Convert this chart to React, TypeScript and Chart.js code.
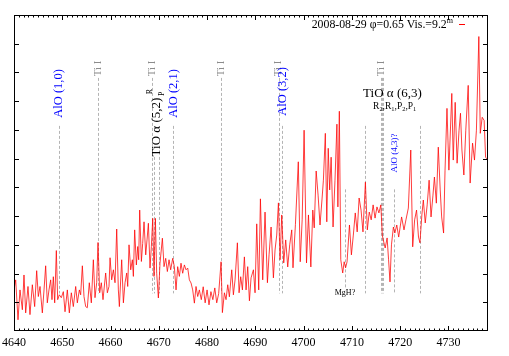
import React, { useEffect, useRef } from "react";
import { Chart, registerables } from "chart.js";

Chart.register(...registerables);

const SERIF = "'Liberation Serif', 'Times New Roman', serif";

// Spectrum: wavelength (Å) and relative flux
const wavelengths = [
  4640.0, 4640.35, 4640.83, 4641.24, 4641.73, 4642.07, 4642.42, 4642.9, 4643.31, 4643.8,
  4644.28, 4644.7, 4645.04, 4645.39, 4645.87, 4646.22, 4646.56, 4646.9, 4647.25, 4647.6,
  4647.87, 4648.15, 4648.43, 4648.77, 4649.05, 4649.39, 4649.8, 4650.22, 4650.57, 4651.05,
  4651.46, 4651.88, 4652.29, 4652.78, 4653.12, 4653.54, 4653.81, 4654.16, 4654.5, 4654.85,
  4655.19, 4655.6, 4656.02, 4656.44, 4656.78, 4657.13, 4657.4, 4657.75, 4658.09, 4658.44,
  4658.99, 4659.34, 4659.68,
  4659.9, 4660.24, 4660.59, 4660.93, 4661.28, 4661.62, 4661.83, 4662.31, 4662.66, 4663.0,
  4663.35, 4663.56, 4663.83, 4664.18, 4664.52, 4664.73, 4665.0, 4665.35, 4665.63, 4665.83,
  4666.04, 4666.39, 4666.66, 4666.94, 4667.29, 4667.56, 4667.84, 4668.18, 4668.46, 4668.74,
  4669.01, 4669.29, 4669.56, 4669.91, 4670.25, 4670.74, 4671.08, 4671.43, 4671.77, 4672.12,
  4672.46, 4672.88, 4673.22, 4673.57, 4673.91, 4674.26, 4674.6, 4674.95, 4675.3, 4675.64,
  4675.99, 4676.33, 4676.68, 4677.02, 4677.37, 4677.71, 4678.06, 4678.4,
  4678.8, 4679.2, 4679.6, 4680.0, 4680.4, 4680.8, 4681.2, 4681.6, 4682.0, 4682.4,
  4682.9, 4683.17, 4683.59, 4683.93, 4684.28, 4684.62, 4685.11, 4685.45, 4685.8, 4686.28,
  4686.63, 4686.97, 4687.32, 4687.73, 4688.08, 4688.42, 4688.77, 4689.11, 4689.6, 4689.94,
  4690.29, 4690.7, 4691.05, 4691.53, 4692.01, 4692.5, 4692.84, 4693.26, 4693.74, 4694.08,
  4694.43, 4694.78, 4695.12, 4695.47, 4695.88, 4696.29, 4696.71, 4697.12, 4697.54,
  4697.8, 4698.3, 4698.9, 4699.3, 4699.7, 4700.1, 4700.6, 4701.0, 4701.5, 4701.9,
  4702.2, 4702.6, 4703.0, 4703.4, 4703.8, 4704.1, 4704.5, 4704.8, 4705.1, 4705.4,
  4705.7, 4706.1, 4706.5, 4706.9, 4707.1, 4707.4, 4707.7, 4708.1, 4708.4, 4708.7,
  4709.0, 4709.5, 4709.9, 4710.3, 4710.7, 4711.1, 4711.5, 4711.9, 4712.3, 4712.8,
  4713.2, 4713.6, 4714.0, 4714.4, 4714.8, 4715.2, 4715.6, 4716.0, 4716.3, 4716.5,
  4716.9, 4717.3, 4717.6, 4717.9, 4718.2, 4718.6, 4718.9, 4719.3, 4719.7, 4720.3,
  4720.8, 4721.2, 4721.7, 4722.2, 4722.6, 4723.0, 4723.4, 4723.8, 4724.1, 4724.5,
  4724.8, 4725.2, 4725.6, 4726.0, 4726.4, 4726.8, 4727.1, 4727.5, 4727.9, 4728.3,
  4728.6, 4729.0, 4729.3, 4729.7, 4730.1, 4730.7, 4731.0, 4731.4, 4731.8, 4732.2,
  4732.5, 4732.8, 4733.2, 4733.6, 4734.1, 4734.5, 4735.0, 4735.4, 4735.8, 4736.3,
  4736.6, 4737.0, 4737.4, 4737.7, 4738.2,
];

const flux = [
  1.43, 1.78, 0.39, 1.43, 0.74, 1.95, 0.63, 1.55, 0.57, 1.61,
  0.85, 2.1, 1.2, 1.55, 0.63, 1.43, 2.27, 0.98, 1.43, 1.78,
  1.09, 1.89, 0.98, 2.8, 1.09, 1.26, 1.16, 1.37, 0.67, 1.43,
  0.63, 1.33, 0.85, 1.55, 0.98, 1.43, 1.26, 2.27, 1.2, 0.85,
  0.81, 1.68, 0.98, 2.48, 1.16, 1.68, 3.08, 1.33, 1.68, 1.09,
  2.02, 1.33, 1.55,
  2.55, 1.78, 2.13, 1.68, 3.55, 1.43, 0.85, 2.48, 0.98, 1.68,
  2.02, 1.55, 3.0, 2.13, 2.48, 1.9, 3.52, 2.3, 2.94, 2.48,
  4.21, 2.42, 3.05, 3.8, 2.65, 3.17, 3.75, 2.19, 2.94, 3.92,
  1.9, 3.92, 2.01, 1.15, 2.36, 3.23, 2.24, 2.53, 2.07, 2.48,
  2.13, 2.53, 2.24, 1.43, 2.24, 1.9, 2.36, 2.01, 2.3, 2.13,
  2.19, 1.78, 1.67, 1.43, 0.97, 1.55, 1.2, 1.43,
  1.09, 1.54, 0.98, 1.43, 0.91, 1.37, 1.09, 1.5, 0.98, 1.3,
  2.41, 0.64, 1.33, 1.09, 1.61, 1.19, 2.13, 1.26, 1.78, 3.07,
  1.33, 1.89, 1.43, 2.58, 1.43, 2.24, 1.05, 1.85, 2.13, 1.33,
  3.73, 1.43, 4.6, 1.78, 4.14, 1.68, 2.65, 3.62, 1.85, 2.82,
  3.34, 4.46, 2.48, 4.04, 2.37, 3.17, 2.23, 3.0, 3.52,
  2.2, 3.7, 5.89, 2.41, 3.87, 6.99, 2.37, 4.04, 2.23, 4.21,
  3.59, 5.57, 4.73, 3.69, 4.56, 5.25, 6.88, 3.8, 6.36, 4.91,
  6.05, 3.62, 5.25, 7.2, 4.32, 7.65, 2.48, 2.02, 2.41, 2.2,
  2.41, 3.69, 2.65, 3.34, 4.11, 3.45, 4.63, 4.21, 3.45, 5.18,
  3.52, 4.14, 3.87, 4.39, 3.93, 4.32, 4.11, 4.39, 3.34, 3.17,
  2.89, 3.24, 2.48, 1.71, 3.0, 3.62, 3.41, 3.69, 3.27, 3.97,
  3.52, 3.87, 4.28, 6.3, 2.93, 3.87, 4.21, 3.27, 3.07, 4.04,
  4.56, 3.76, 4.39, 5.25, 3.97, 4.73, 5.36, 4.45, 6.4, 4.91,
  3.97, 3.41, 5.6, 7.75, 5.6, 8.27, 5.95, 7.96, 5.84, 6.99,
  7.58, 6.3, 5.43, 6.99, 8.55, 5.15, 6.54, 5.95, 6.99, 10.25,
  6.88, 7.44, 7.33, 6.05, 5.95,
];

const xTickValues = [4640, 4650, 4660, 4670, 4680, 4690, 4700, 4710, 4720, 4730];
const yTickValues = [1, 2, 3, 4, 5, 6, 7, 8, 9, 10];

// Line identifications (dashed markers): wavelength, top and bottom in flux units
const markerWavelengths = [
  4649.26, 4657.47, 4668.66, 4669.07, 4670.11, 4673.01, 4682.89, 4694.8, 4695.6,
  4708.59, 4712.73, 4716.05, 4716.3, 4716.55, 4718.8, 4724.19,
];
const markerTops = [7.14, 8.81, 8.81, 6.06, 6.06, 7.14, 8.81, 8.81, 7.14, 4.93, 7.14, 8.81, 8.81, 8.81, 4.93, 7.14];
const markerBottoms = [1.31, 1.31, 1.31, 1.31, 1.31, 1.31, 1.31, 1.31, 1.31, 1.45, 1.31, 1.31, 1.31, 1.31, 1.31, 1.31];

type Part = { t: string; k?: "sub" | "sup" };
type Note = { parts: Part[]; w: number; f: number; size: number; color: string; rot: boolean };

const notes: Note[] = [
  { parts: [{ t: "AlO (1,0)" }], w: 4649.26, f: 8.27, size: 12.5, color: "#0000ff", rot: true },
  { parts: [{ t: "Ti I" }], w: 4657.4, f: 9.14, size: 11, color: "#8c8c8c", rot: true },
  { parts: [{ t: "Ti I" }], w: 4668.6, f: 9.14, size: 11, color: "#8c8c8c", rot: true },
  { parts: [{ t: "TiO α (5,2)" }], w: 4669.63, f: 7.1, size: 13, color: "#000000", rot: true },
  { parts: [{ t: "R" }], w: 4668.1, f: 8.33, size: 8, color: "#000000", rot: true },
  { parts: [{ t: "P" }], w: 4670.6, f: 8.26, size: 8, color: "#000000", rot: true },
  { parts: [{ t: "AlO (2,1)" }], w: 4673.01, f: 8.27, size: 12.5, color: "#0000ff", rot: true },
  { parts: [{ t: "Ti I" }], w: 4682.85, f: 9.14, size: 11, color: "#8c8c8c", rot: true },
  { parts: [{ t: "Ti I" }], w: 4694.75, f: 9.14, size: 11, color: "#8c8c8c", rot: true },
  { parts: [{ t: "AlO (3,2)" }], w: 4695.6, f: 8.34, size: 12.5, color: "#0000ff", rot: true },
  { parts: [{ t: "Ti I" }], w: 4716.1, f: 9.14, size: 11, color: "#8c8c8c", rot: true },
  { parts: [{ t: "TiO α (6,3)" }], w: 4718.41, f: 8.28, size: 13, color: "#000000", rot: false },
  {
    parts: [
      { t: "R" }, { t: "2", k: "sub" }, { t: "," }, { t: "R" }, { t: "1", k: "sub" }, { t: "," },
      { t: "P" }, { t: "2", k: "sub" }, { t: "," }, { t: "P" }, { t: "1", k: "sub" },
    ],
    w: 4718.87, f: 7.81, size: 9.5, color: "#000000", rot: false,
  },
  { parts: [{ t: "AlO (4,3)?" }], w: 4718.8, f: 6.2, size: 9, color: "#0000ff", rot: true },
  { parts: [{ t: "MgH?" }], w: 4708.57, f: 1.31, size: 8, color: "#000000", rot: false },
];

const legendParts: Part[] = [{ t: "2008-08-29 φ=0.65 Vis.=9.2" }, { t: "m", k: "sup" }];

function drawParts(ctx: CanvasRenderingContext2D, parts: Part[], x: number, y: number, size: number, align: "center" | "right") {
  const widths = parts.map((p) => {
    ctx.font = `${p.k ? size * 0.68 : size}px ${SERIF}`;
    return ctx.measureText(p.t).width;
  });
  const total = widths.reduce((a, b) => a + b, 0);
  let cx = align === "center" ? x - total / 2 : x - total;
  ctx.textAlign = "left";
  parts.forEach((p, i) => {
    ctx.font = `${p.k ? size * 0.68 : size}px ${SERIF}`;
    const dy = p.k === "sub" ? size * 0.3 : p.k === "sup" ? -size * 0.42 : 0;
    ctx.fillText(p.t, cx, y + dy);
    cx += widths[i];
  });
}

const overlay = {
  id: "overlay",
  beforeDatasetsDraw(chart: any) {
    const { ctx } = chart;
    const xs = chart.scales.x;
    const ys = chart.scales.y;
    ctx.save();
    ctx.strokeStyle = "#b4b4b4";
    ctx.lineWidth = 1;
    ctx.setLineDash([3, 2]);
    markerWavelengths.forEach((w, i) => {
      const px = Math.round(xs.getPixelForValue(w)) + 0.5;
      ctx.beginPath();
      ctx.moveTo(px, ys.getPixelForValue(markerTops[i]));
      ctx.lineTo(px, ys.getPixelForValue(markerBottoms[i]));
      ctx.stroke();
    });
    ctx.restore();
  },
  afterDatasetsDraw(chart: any) {
    const { ctx, chartArea } = chart;
    const xs = chart.scales.x;
    const ys = chart.scales.y;
    ctx.save();
    notes.forEach((n) => {
      const px = xs.getPixelForValue(n.w);
      const py = ys.getPixelForValue(n.f);
      ctx.fillStyle = n.color;
      ctx.textBaseline = "middle";
      ctx.save();
      ctx.translate(px, py);
      if (n.rot) ctx.rotate(-Math.PI / 2);
      drawParts(ctx, n.parts, 0, 0, n.size, "center");
      ctx.restore();
    });
    const { left, right, top, bottom } = chartArea;
    ctx.strokeStyle = "#000";
    ctx.lineWidth = 1;
    ctx.setLineDash([]);
    ctx.strokeRect(left + 0.5, top + 0.5, right - left - 1, bottom - top - 1);
    ctx.beginPath();
    yTickValues.forEach((v) => {
      const py = Math.round(ys.getPixelForValue(v)) + 0.5;
      ctx.moveTo(left, py);
      ctx.lineTo(left + 5, py);
      ctx.moveTo(right, py);
      ctx.lineTo(right - 5, py);
    });
    for (let v = 4641; v <= 4738; v++) {
      const px = Math.round(xs.getPixelForValue(v)) + 0.5;
      const len = v % 10 === 0 ? 5 : 2.5;
      ctx.moveTo(px, bottom);
      ctx.lineTo(px, bottom - len);
      ctx.moveTo(px, top);
      ctx.lineTo(px, top + len);
    }
    ctx.stroke();
    ctx.fillStyle = "#000";
    ctx.textBaseline = "alphabetic";
    drawParts(ctx, legendParts, 453, 28, 11.8, "right");
    ctx.strokeStyle = "#ff0000";
    ctx.beginPath();
    ctx.moveTo(459, 24.5);
    ctx.lineTo(465, 24.5);
    ctx.stroke();
    ctx.restore();
  },
};

export default function App() {
  const ref = useRef<HTMLCanvasElement>(null);
  useEffect(() => {
    const canvas = ref.current!;
    const chart = new Chart(canvas, {
      type: "line",
      data: {
        datasets: [
          {
            data: wavelengths.map((w, i) => ({ x: w, y: flux[i] })),
            borderColor: "rgba(255,0,0,0.85)",
            borderWidth: 0.9,
            pointRadius: 0,
            tension: 0,
            fill: false,
          },
        ],
      },
      options: {
        responsive: false,
        animation: false,
        devicePixelRatio: 1,
        events: [],
        layout: { padding: { left: 14, right: 21, top: 15, bottom: 0 } },
        plugins: { legend: { display: false }, tooltip: { enabled: false } },
        scales: {
          x: {
            type: "linear",
            min: 4640,
            max: 4738.2,
            position: "bottom",
            grid: { display: false, drawTicks: false },
            border: { display: false },
            ticks: {
              font: { family: SERIF, size: 12 },
              color: "#000",
              padding: 5,
              maxRotation: 0,
              autoSkip: false,
              callback: (v: any) => String(v),
            },
            afterBuildTicks: (s: any) => {
              s.ticks = xTickValues.map((v) => ({ value: v }));
            },
            afterFit: (s: any) => {
              s.height = 25;
              s.paddingLeft = 0;
              s.paddingRight = 0;
            },
          },
          y: { type: "linear", min: 0, max: 11, display: false },
        },
      },
      plugins: [overlay],
    } as any);
    return () => chart.destroy();
  }, []);
  return (
    <div style={{ position: "fixed", left: 0, top: 0, width: 509, height: 356, background: "#fff" }}>
      <canvas ref={ref} width={509} height={356} style={{ display: "block", width: 509, height: 356 }} />
    </div>
  );
}
